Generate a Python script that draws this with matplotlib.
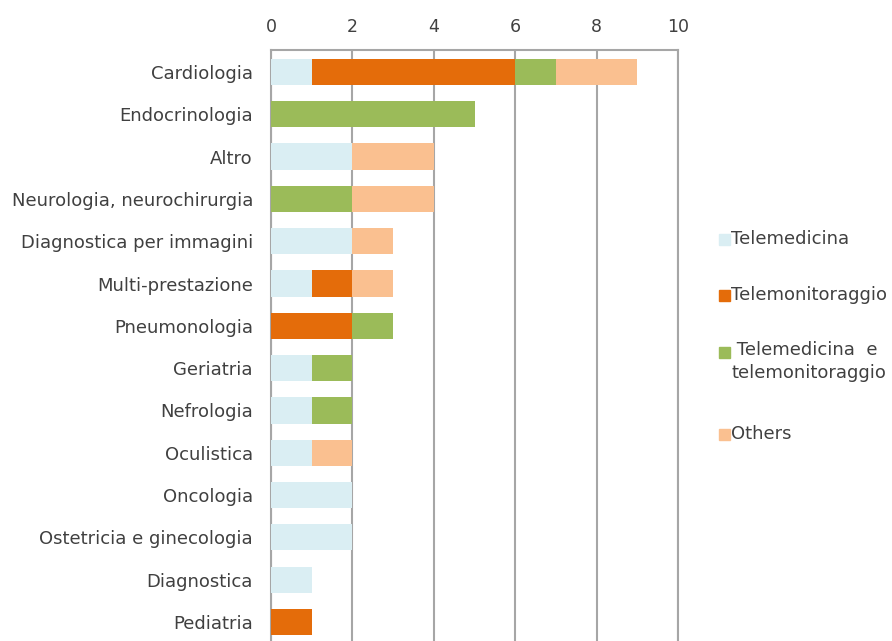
import matplotlib.pyplot as plt
from matplotlib.patches import Rectangle
import numpy as np

plt.rcParams['font.family'] = ['DejaVu Sans']

categories = ['Cardiologia', 'Endocrinologia', 'Altro', 'Neurologia, neurochirurgia',
              'Diagnostica per immagini', 'Multi-prestazione', 'Pneumonologia',
              'Geriatria', 'Nefrologia', 'Oculistica', 'Oncologia',
              'Ostetricia e ginecologia', 'Diagnostica', 'Pediatria']

telemedicina =     [1, 0, 2, 0, 2, 1, 0, 1, 1, 1, 2, 2, 1, 0]
telemonitoraggio = [5, 0, 0, 0, 0, 1, 2, 0, 0, 0, 0, 0, 0, 1]
entrambi =         [1, 5, 0, 2, 0, 0, 1, 1, 1, 0, 0, 0, 0, 0]
others =           [2, 0, 2, 2, 1, 1, 0, 0, 0, 1, 0, 0, 0, 0]

series = [telemedicina, telemonitoraggio, entrambi, others]
colors = ['#DAEEF3', '#E46C0A', '#9BBB59', '#FAC090']
labels = ['Telemedicina', 'Telemonitoraggio', ' Telemedicina  e\ntelemonitoraggio', 'Others']
txt = '#404040'

fig = plt.figure(figsize=(8.92, 6.41), dpi=100)
ax = fig.add_axes([271 / 892, 0, (678 - 271) / 892, 1 - 50 / 641])

y = np.arange(len(categories))
left = np.zeros(len(categories))
for vals, c in zip(series, colors):
    ax.barh(y, vals, left=left, height=0.62, color=c, zorder=3)
    left += np.array(vals)

ax.set_xlim(0, 10)
ax.set_ylim(13.45, -0.52)
ax.set_xticks(range(0, 11, 2))
ax.set_yticks(y)
ax.set_yticklabels(categories)
ax.xaxis.tick_top()
ax.tick_params(axis='both', length=0, labelcolor=txt)
ax.tick_params(axis='x', pad=10, labelsize=12.5)
ax.tick_params(axis='y', pad=13, labelsize=13)
ax.grid(axis='x', color='#A6A6A6', linewidth=1.5, zorder=0)
for s in ['top', 'left', 'right']:
    ax.spines[s].set_color('#A6A6A6')
    ax.spines[s].set_linewidth(1.5)
ax.spines['bottom'].set_visible(False)

# legend drawn by hand on the right
leg_y = [239, 295, 352, 434]
for yy, c, lab in zip(leg_y, colors, labels):
    fig.patches.append(Rectangle((719 / 892, 1 - (yy + 6) / 641), 11 / 892, 11 / 641,
                                 transform=fig.transFigure, color=c))
    if '\n' in lab:
        fig.text(731 / 892, 1 - (yy - 11) / 641, lab, fontsize=13, color=txt,
                 va='top', ha='left', linespacing=1.35)
    else:
        fig.text(731 / 892, 1 - yy / 641, lab, fontsize=13, color=txt,
                 va='center', ha='left')

fig.savefig('out.png', dpi=100)
